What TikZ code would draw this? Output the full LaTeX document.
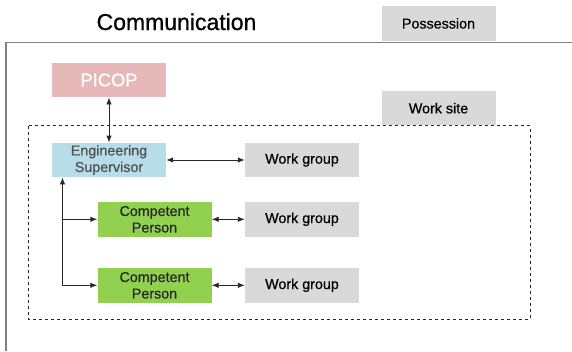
\documentclass[tikz,border=0pt]{standalone}
\usepackage{fontspec}
\setmainfont{Liberation Sans}
\usepackage{tikz}
\usetikzlibrary{arrows.meta,positioning,calc}
\definecolor{rosa}{RGB}{230,185,184}
\definecolor{celeste}{RGB}{183,222,232}
\definecolor{verdec}{RGB}{146,208,80}
\definecolor{grisc}{RGB}{217,217,217}
\definecolor{grisl}{RGB}{128,128,128}
\definecolor{grist}{RGB}{80,80,80}
\definecolor{flecha}{RGB}{40,40,40}
\tikzset{
  caja/.style={rectangle, align=center, inner sep=0pt, minimum width=114pt, minimum height=34.5pt, font=\fontsize{14.3}{16.5}\selectfont\addfontfeature{FakeBold=0.6}},
  gris/.style={caja, fill=grisc, text=black},
  jefe/.style={caja, fill=celeste, text=grist},
  comp/.style={caja, fill=verdec, text=black!85},
  fl/.style={-{Latex[length=7pt,width=5.5pt]}, line width=0.9pt, flecha},
  fld/.style={{Latex[length=7pt,width=5.5pt]}-{Latex[length=7pt,width=5.5pt]}, line width=0.9pt, flecha},
}
\begin{document}
\begin{tikzpicture}[x=1pt,y=-1pt]
  \useasboundingbox (0,0) rectangle (572,351);
  % possession frame and work site area
  \draw[grisl, line width=1.5pt] (6,351) -- (6,42.7) -- (572,42.7);
  \draw[flecha, dashed, line width=0.8pt] (28.7,125.7) rectangle (530,319);
  \node[anchor=base, font=\fontsize{23}{26}\selectfont\addfontfeature{FakeBold=0.8}] (titulo) at (176.5,30) {Communication};
  \node[gris] (poses) at (438.5,23.4) {Possession};
  \node[gris] (obra) at (438.5,108.2) {Work site};
  % roles
  \node[caja, fill=rosa, text=white, font=\fontsize{18.3}{20}\selectfont\addfontfeature{FakeBold=0.6}] (picop) at (109,80) {PICOP};
  \node[jefe] (es) at (109,160) {Engineering\\Supervisor};
  \node[comp] (cp1) at (154.5,219.3) {Competent\\Person};
  \node[comp] (cp2) at (154.5,285.3) {Competent\\Person};
  \node[gris] (wg1) at (302,160) {Work group};
  \node[gris] (wg2) at (302,219.3) {Work group};
  \node[gris] (wg3) at (302,285.3) {Work group};
  % links
  \draw[fld] (picop) -- (es);
  \draw[fld] (es) -- (wg1);
  \draw[fld] (cp1) -- (wg2);
  \draw[fld] (cp2) -- (wg3);
  \coordinate (tap) at ([xshift=10.7pt]es.south west);
  \draw[fld] (tap) |- (cp2.west);
  \draw[fl] (tap |- cp1.west) -- (cp1.west);
\end{tikzpicture}
\end{document}
